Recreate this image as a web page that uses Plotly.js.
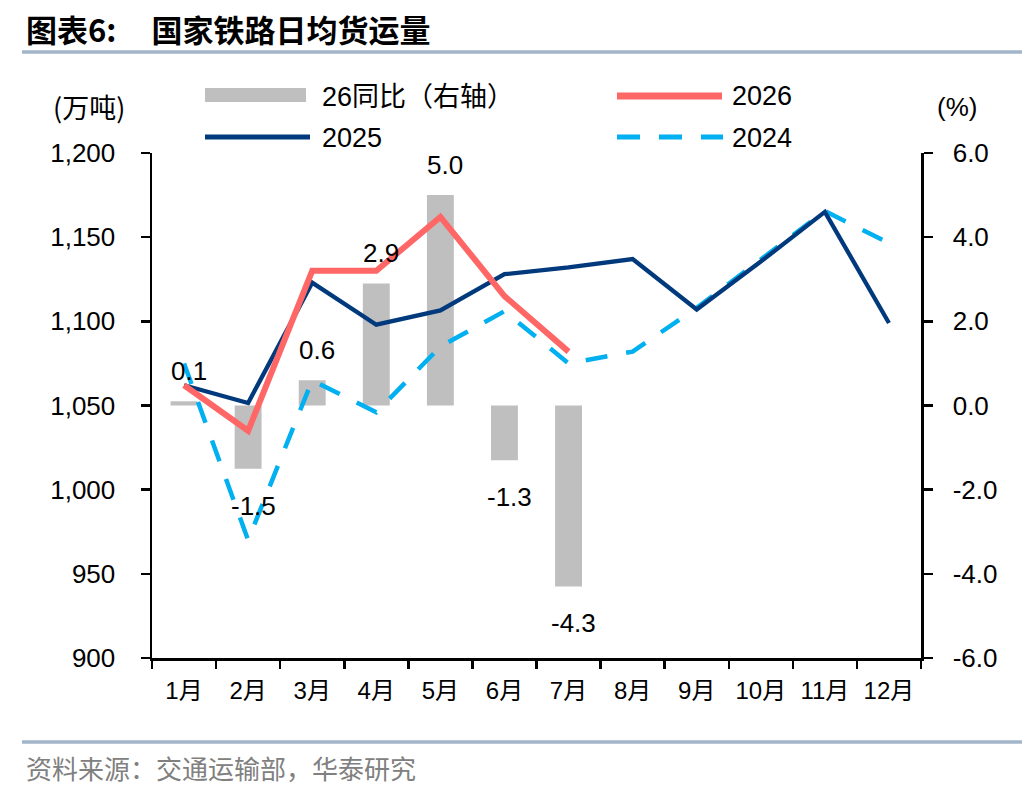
<!DOCTYPE html>
<html>
<head>
<meta charset="utf-8">
<script src="https://cdn.plot.ly/plotly-3.0.1.min.js"></script>
<style>
html,body{margin:0;padding:0;background:#fff;}
#chart{width:1036px;height:792px;}
</style>
</head>
<body>
<div id="chart"></div>
<script>
// ---- data ----
const months = ['1月','2月','3月','4月','5月','6月','7月','8月','9月','10月','11月','12月'];
const yoy26 = [0.1, -1.5, 0.6, 2.9, 5.0, -1.3, -4.3];
const v2026 = [1062, 1035, 1130, 1130, 1162, 1115, 1082];
const v2025 = [1062, 1051.5, 1123, 1098, 1106.5, 1128, 1132, 1137, 1107, 1135.5, 1165, 1099];
const v2024 = [1075, 970, 1065, 1046, 1085, 1106, 1075, 1082, 1108, 1136.5, 1165.5, 1146.5];
const leftTickVals = [900, 950, 1000, 1050, 1100, 1150, 1200];
const leftTickText = ['900', '950', '1,000', '1,050', '1,100', '1,150', '1,200'];
const rightTickVals = [-6, -4, -2, 0, 2, 4, 6];
const rightTickText = ['-6.0', '-4.0', '-2.0', '0.0', '2.0', '4.0', '6.0'];
const seriesNames = ['26同比（右轴）', '2026', '2025', '2024'];

// ---- layout geometry ----
const W = 1036, H = 792;
const M = {l: 152, r: 115, t: 153, b: 134};
const PW = W - M.l - M.r, PH = H - M.t - M.b;
const px = x => (x - M.l) / PW;
const py = y => (H - M.b - y) / PH;

const LAT = 'Arial, "Liberation Sans", "Noto Sans CJK SC", sans-serif';
const CJK = '"Noto Sans CJK SC", "Liberation Sans", sans-serif';
const C_BAR = '#BFBFBF', C_RED = '#FF6666', C_NAVY = '#003A7D', C_BLUE = '#00B0F0';

// bars on the base axis (right side, %), lines on the overlaying axis (left side, 万吨) so lines sit above bars
const traces = [
  {type: 'bar', name: seriesNames[0], x: months.slice(0, yoy26.length), y: yoy26, yaxis: 'y',
   marker: {color: C_BAR}, width: 0.42, hoverinfo: 'skip'},
  {type: 'scatter', mode: 'lines', name: seriesNames[3], x: months, y: v2024, yaxis: 'y2',
   line: {color: C_BLUE, width: 4.5, dash: '22px,19px'}},
  {type: 'scatter', mode: 'lines', name: seriesNames[2], x: months, y: v2025, yaxis: 'y2',
   line: {color: C_NAVY, width: 4.3}},
  {type: 'scatter', mode: 'lines', name: seriesNames[1], x: months.slice(0, v2026.length), y: v2026, yaxis: 'y2',
   line: {color: C_RED, width: 6}}
];

const annotations = [];
// bar data labels
yoy26.forEach((v, i) => {
  annotations.push({
    x: months[i], y: v, xref: 'x', yref: 'y', text: v.toFixed(1), showarrow: false,
    xanchor: 'center', yanchor: 'middle', xshift: 5, yshift: v >= 0 ? 30 : -37,
    font: {family: LAT, size: 26, color: '#000'}
  });
});
// axis unit labels
annotations.push({xref: 'paper', yref: 'paper', x: px(51), y: py(107), xanchor: 'left', yanchor: 'middle',
  text: '(万吨)', showarrow: false, font: {family: CJK, size: 27, color: '#000'}});
annotations.push({xref: 'paper', yref: 'paper', x: px(957), y: py(107), xanchor: 'center', yanchor: 'middle',
  text: '(%)', showarrow: false, font: {family: LAT, size: 26, color: '#000'}});
// legend texts
const legText = [
  {t: seriesNames[0], x: 320, y: 97},
  {t: seriesNames[1], x: 730, y: 96},
  {t: seriesNames[2], x: 320, y: 138},
  {t: seriesNames[3], x: 730, y: 138}
];
legText.forEach(o => annotations.push({xref: 'paper', yref: 'paper', x: px(o.x), y: py(o.y),
  xanchor: 'left', yanchor: 'middle', text: o.t, showarrow: false,
  font: {family: LAT, size: 27, color: '#000'}}));
// source
annotations.push({xref: 'paper', yref: 'paper', x: px(24), y: py(767), xanchor: 'left', yanchor: 'middle',
  text: '资料来源：交通运输部，华泰研究', showarrow: false,
  font: {family: CJK, size: 26, color: '#808080'}});

const shapes = [
  // title rule
  {type: 'line', xref: 'paper', yref: 'paper', x0: px(22), x1: px(1022), y0: py(52), y1: py(52),
   line: {color: '#A3B5CA', width: 3.5}},
  // source rule
  {type: 'line', xref: 'paper', yref: 'paper', x0: px(22), x1: px(1022), y0: py(742), y1: py(742),
   line: {color: '#A3B5CA', width: 3.5}},
  // legend swatches
  {type: 'rect', xref: 'paper', yref: 'paper', x0: px(205), x1: px(306), y0: py(88), y1: py(102),
   fillcolor: C_BAR, line: {width: 0}},
  {type: 'line', xref: 'paper', yref: 'paper', x0: px(617), x1: px(722), y0: py(96), y1: py(96),
   line: {color: C_RED, width: 7}},
  {type: 'line', xref: 'paper', yref: 'paper', x0: px(205), x1: px(310), y0: py(137), y1: py(137),
   line: {color: C_NAVY, width: 5}},
  {type: 'line', xref: 'paper', yref: 'paper', x0: px(617), x1: px(723), y0: py(137), y1: py(137),
   line: {color: C_BLUE, width: 5, dash: '23px,19px'}}
];

const axisCommon = {
  showline: true, linecolor: '#000', linewidth: 2.5, showgrid: false, zeroline: false,
  ticks: 'outside', tickcolor: '#000', tickwidth: 2.5, ticklen: 9
};

const layout = {
  width: W, height: H, margin: M, paper_bgcolor: '#fff', plot_bgcolor: '#fff',
  showlegend: false, bargap: 0.2,
  title: {text: '<b>图表6:\u00a0\u00a0\u00a0\u00a0\u00a0国家铁路日均货运量</b>', x: 26 / W, xref: 'container', xanchor: 'left',
          y: 1 - 31 / H, yref: 'container', yanchor: 'middle',
          font: {family: CJK, size: 31, color: '#000'}},
  xaxis: Object.assign({}, axisCommon, {
    type: 'category', categoryorder: 'array', categoryarray: months, range: [-0.5, 11.5],
    tickson: 'boundaries', ticklen: 8, ticklabelstandoff: 10,
    tickfont: {family: LAT, size: 24, color: '#000'}
  }),
  yaxis: Object.assign({}, axisCommon, {
    side: 'right', range: [-6, 6], tickvals: rightTickVals, ticktext: rightTickText,
    ticklabelstandoff: 15, tickfont: {family: LAT, size: 26, color: '#000'}
  }),
  yaxis2: Object.assign({}, axisCommon, {
    overlaying: 'y', side: 'left', range: [900, 1200], tickvals: leftTickVals, ticktext: leftTickText,
    ticklabelstandoff: 20, tickfont: {family: LAT, size: 26, color: '#000'}
  }),
  annotations: annotations,
  shapes: shapes
};

Plotly.newPlot('chart', traces, layout, {displayModeBar: false, staticPlot: true});
</script>
</body>
</html>
